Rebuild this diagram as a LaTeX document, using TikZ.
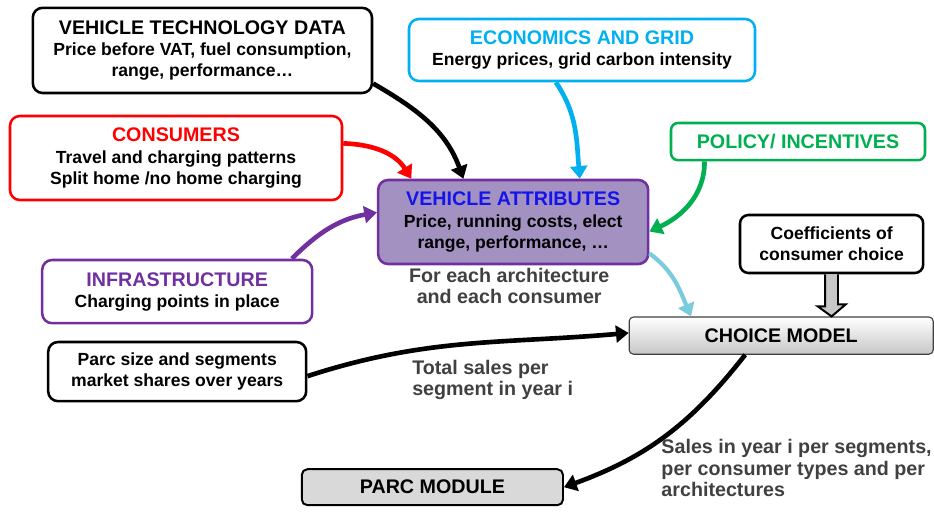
\documentclass[tikz,border=0pt]{standalone}
\usepackage{fontspec}
\setmainfont{Liberation Sans}
\usepackage{xcolor}
\usetikzlibrary{arrows.meta}

\definecolor{econblue}{RGB}{0,176,240}
\definecolor{polgreen}{RGB}{0,176,80}
\definecolor{infrapurple}{RGB}{112,48,160}
\definecolor{attrfill}{RGB}{163,145,194}
\definecolor{attrblue}{RGB}{20,20,235}
\definecolor{choiceblue}{RGB}{122,204,220}
\definecolor{notegray}{RGB}{64,64,64}

\newcommand{\hd}{\fontsize{14}{15}\selectfont\bfseries}
\newcommand{\tx}{\fontsize{12.5}{15}\selectfont\bfseries}

\tikzset{
  box/.style={draw, rounded corners=7pt, line width=1.8pt, align=center, font=\tx, inner sep=1pt},
  grey/.style={draw, fill=black!15, rounded corners=4pt, line width=1.4pt, font=\hd},
  link/.style={line width=3.3pt, -{Triangle[length=9pt,width=12pt]}},
  note/.style={text=notegray, font=\hd, inner sep=0pt}
}

\begin{document}
\begin{tikzpicture}
\useasboundingbox (0,0) rectangle (23.35,-12.85);

% inputs
\node[box, minimum width=8.48cm, minimum height=2.13cm] (tech) at (5.06,-1.26)
  {{\hd VEHICLE TECHNOLOGY DATA}\\Price before VAT, fuel consumption,\\range, performance…};
\node[box, draw=econblue, minimum width=8.65cm, minimum height=1.55cm] (econ) at (14.55,-1.25)
  {{\hd\color{econblue} ECONOMICS AND GRID}\\Energy prices, grid carbon intensity};
\node[box, draw=red, minimum width=8.30cm, minimum height=2.10cm] (cons) at (4.40,-3.95)
  {{\hd\color{red} CONSUMERS}\\Travel and charging patterns\\Split home /no home charging};
\node[box, draw=polgreen, rounded corners=5pt, minimum width=6.35cm, minimum height=0.93cm] (policy) at (19.95,-3.54)
  {{\hd\color{polgreen} POLICY/ INCENTIVES}};
\node[box, draw=infrapurple, minimum width=6.75cm, minimum height=1.58cm] (infra) at (4.43,-7.29)
  {{\hd\color{infrapurple} INFRASTRUCTURE}\\Charging points in place};
\node[box, minimum width=6.45cm, minimum height=1.48cm] (parcsize) at (4.43,-9.29)
  {Parc size and segments\\market shares over years};
\node[box, rounded corners=6pt, minimum width=4.58cm, minimum height=1.45cm] (coeff) at (20.79,-6.10)
  {Coefficients of\\consumer choice};

% attributes and models
\node[box, draw=infrapurple, fill=attrfill, minimum width=6.75cm, minimum height=2.10cm] (attr) at (12.83,-5.55)
  {{\hd\color{attrblue} VEHICLE ATTRIBUTES}\\Price, running costs, elect\\range, performance, …};
\node[draw=black!75, line width=0.8pt, rounded corners=3pt, top color=white, bottom color=black!22,
  font=\hd, minimum width=7.60cm, minimum height=0.93cm] (choice) at (19.53,-8.39) {CHOICE MODEL};
\node[grey, minimum width=6.53cm, minimum height=0.90cm] (parcmod) at (10.81,-12.18) {PARC MODULE};

% notes
\node[note, align=center] (each) at (12.73,-7.15) {For each architecture\\and each consumer};
\node[note, align=left, anchor=west] (total) at (10.30,-9.50) {Total sales per\\segment in year i};
\node[note, align=left, anchor=west] (sales) at (16.53,-11.70)
  {Sales in year i per segments,\\per consumer types and per\\architectures};

% links
\draw[link] (tech.-11) to[out=-30,in=110] (attr.139);
\draw[link, red] (cons.5) to[out=-2,in=122] (attr.157);
\draw[link, econblue] (econ.231) to[out=-56,in=95] (attr.33);
\draw[link, polgreen] (policy.192) to[out=-90,in=25] (attr.-4);
\draw[link, infrapurple] (infra.16) to[out=45,in=190] (attr.176);
\draw[link, choiceblue, line width=3pt] (attr.-13) to[out=-36,in=113] (choice.168);
\draw[link] (parcsize.-2) to[out=18,in=185] (choice.179);
\draw[link] (choice.208) to[out=-128,in=20] (parcmod.east);
\draw[fill=black!22, line width=1.4pt] ([xshift=-0.16cm]coeff.south) -- ++(0,-0.8) -- ++(-0.19,0)
  -- (coeff.south |- choice.north) -- ++(0.35,0.3) -- ++(-0.19,0) -- ([xshift=0.16cm]coeff.south);
\end{tikzpicture}
\end{document}
